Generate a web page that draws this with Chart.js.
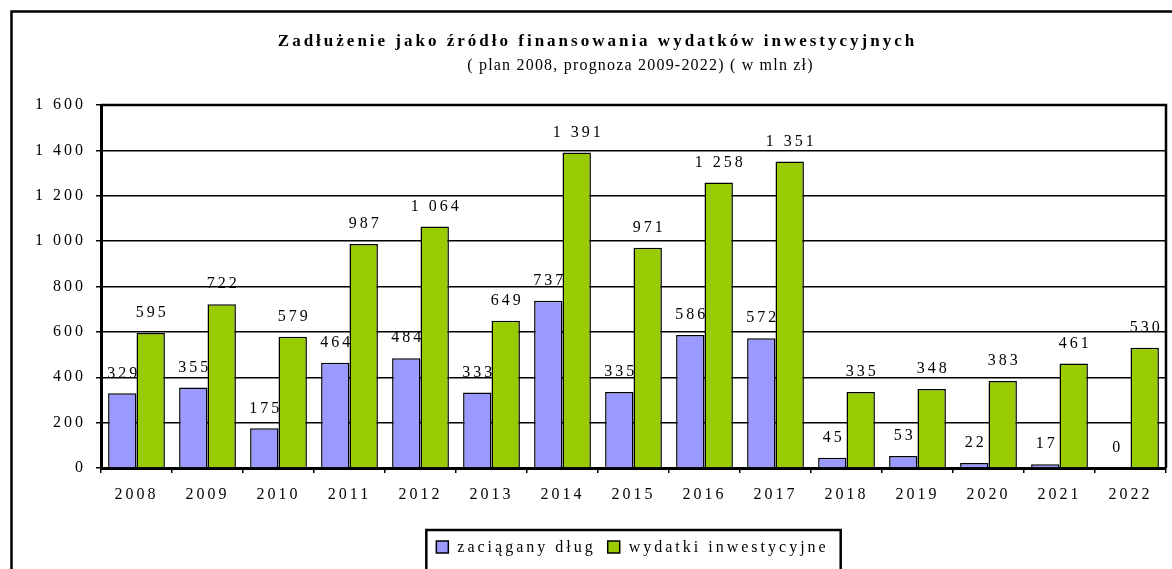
<!DOCTYPE html>
<html>
<head>
<meta charset="utf-8">
<script src="https://cdn.jsdelivr.net/npm/chart.js@4.4.0/dist/chart.umd.min.js"></script>
<style>
    html, body { margin: 0; padding: 0; background: #fff; }
    #wrap { width: 1172px; height: 569px; }
</style>
</head>
<body>
<div id="wrap"><canvas id="chart"></canvas></div>
<script>
const years = ['2008', '2009', '2010', '2011', '2012', '2013', '2014', '2015', '2016', '2017', '2018', '2019', '2020', '2021', '2022'];
const debt = [329, 355, 175, 464, 484, 333, 737, 335, 586, 572, 45, 53, 22, 17, 0];
const investment = [595, 722, 579, 987, 1064, 649, 1391, 971, 1258, 1351, 335, 348, 383, 461, 530];
const seriesNames = ['zaciągany dług', 'wydatki inwestycyjne'];
const titleText = 'Zadłużenie jako źródło finansowania wydatków inwestycyjnych';
const subtitleText = '( plan 2008, prognoza 2009-2022) ( w mln zł)';
const yMin = 0;
const yMax = 1600;
const yStep = 200;

const SERIF = '"Liberation Serif", "Times New Roman", serif';
const SPACING = '3px';

function fmt(v) {
    return String(v).replace(/\B(?=(\d{3})+(?!\d))/g, ' ');
}

const excelLook = {
    id: 'excelLook',
    beforeUpdate(chart) {
        chart.ctx.letterSpacing = SPACING;
    },
    beforeDraw(chart) {
        const { ctx } = chart;
        ctx.save();
        ctx.fillStyle = '#fff';
        ctx.fillRect(0, 0, chart.width, chart.height);
        ctx.restore();
        ctx.letterSpacing = SPACING;
    },
    afterDatasetsDraw(chart) {
        const { ctx } = chart;
        ctx.save();
        ctx.font = '16px ' + SERIF;
        ctx.fillStyle = '#000';
        ctx.textAlign = 'center';
        ctx.textBaseline = 'middle';
        chart.data.datasets.forEach((ds, i) => {
            chart.getDatasetMeta(i).data.forEach((bar, j) => {
                ctx.fillText(fmt(ds.data[j]), bar.x + 1.5, bar.y - 20);
            });
        });
        ctx.restore();
    },
    afterDraw(chart) {
        const { ctx, chartArea } = chart;
        const mid = chartArea.left + (chartArea.right - chartArea.left) / 2;
        ctx.save();
        ctx.strokeStyle = '#000';
        // plot frame (top + right)
        ctx.lineWidth = 2.5;
        ctx.beginPath();
        ctx.moveTo(chartArea.left, chartArea.top);
        ctx.lineTo(chartArea.right, chartArea.top);
        ctx.lineTo(chartArea.right, chartArea.bottom);
        ctx.stroke();
        // outer frame (cropped on right and bottom)
        ctx.beginPath();
        ctx.moveTo(11.5, chart.height + 5);
        ctx.lineTo(11.5, 11.5);
        ctx.lineTo(chart.width + 5, 11.5);
        ctx.stroke();

        // title + subtitle
        ctx.fillStyle = '#000';
        ctx.textAlign = 'center';
        ctx.textBaseline = 'middle';
        ctx.font = 'bold 17px ' + SERIF;
        ctx.letterSpacing = '3px';
        ctx.fillText(titleText, mid - 36, 42);
        ctx.font = '16px ' + SERIF;
        ctx.letterSpacing = '1.2px';
        ctx.fillText(subtitleText, mid + 7, 66);

        // legend
        ctx.letterSpacing = SPACING;
        ctx.font = '16px ' + SERIF;
        ctx.textAlign = 'left';
        const box = 12;
        const gapBoxText = 9;
        const gapItems = 12;
        const widths = seriesNames.map((n) => ctx.measureText(n).width);
        const itemsW = widths.reduce((a, w) => a + box + gapBoxText + w, 0) + gapItems;
        const padL = 10;
        const padR = 12;
        const top = chartArea.bottom + 62;
        const boxW = itemsW + padL + padR;
        const left = mid - boxW / 2;
        ctx.lineWidth = 2.5;
        ctx.strokeRect(left, top, boxW, 50);
        const cy = top + 17;
        let x = left + padL;
        chart.data.datasets.forEach((ds, i) => {
            ctx.fillStyle = ds.backgroundColor;
            ctx.fillRect(x, cy - box / 2, box, box);
            ctx.lineWidth = 1.5;
            ctx.strokeRect(x, cy - box / 2, box, box);
            ctx.fillStyle = '#000';
            ctx.fillText(seriesNames[i], x + box + gapBoxText, cy + 1);
            x += box + gapBoxText + widths[i] + gapItems;
        });
        ctx.restore();
    },
};

new Chart(document.getElementById('chart'), {
    type: 'bar',
    data: {
        labels: years,
        datasets: [
            {
                label: seriesNames[0],
                data: debt,
                backgroundColor: '#9999FF',
                borderColor: '#000',
                borderWidth: 1.5,
                categoryPercentage: 0.8,
                barPercentage: 1,
            },
            {
                label: seriesNames[1],
                data: investment,
                backgroundColor: '#99CC00',
                borderColor: '#000',
                borderWidth: 1.5,
                categoryPercentage: 0.8,
                barPercentage: 1,
            },
        ],
    },
    options: {
        responsive: true,
        maintainAspectRatio: false,
        animation: false,
        layout: { padding: { top: 105, left: 11, right: 6, bottom: 41 } },
        plugins: {
            legend: { display: false },
            tooltip: { enabled: false },
            title: { display: false },
        },
        scales: {
            x: {
                grid: {
                    drawOnChartArea: false,
                    drawTicks: true,
                    tickLength: 5,
                    color: '#000',
                    lineWidth: 1.5,
                    offset: true,
                },
                border: { color: '#000', width: 3 },
                ticks: {
                    color: '#000',
                    font: { family: SERIF, size: 16 },
                    padding: 12,
                    maxRotation: 0,
                },
                afterFit(scale) {
                    scale.height = 60;
                },
            },
            y: {
                min: yMin,
                max: yMax,
                grid: {
                    color: '#000',
                    lineWidth: 1.5,
                    tickLength: 5,
                },
                border: { color: '#000', width: 3 },
                ticks: {
                    stepSize: yStep,
                    color: '#000',
                    font: { family: SERIF, size: 16 },
                    padding: 10,
                    callback: (v) => fmt(v),
                },
                afterFit(scale) {
                    scale.width = 90;
                },
            },
        },
    },
    plugins: [excelLook],
});
</script>
</body>
</html>
